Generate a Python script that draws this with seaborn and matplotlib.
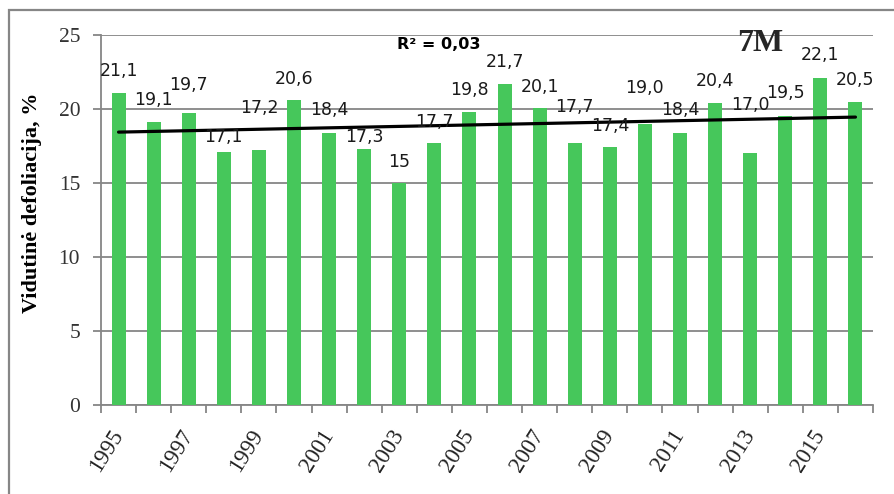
import numpy as np
import pandas as pd
import seaborn as sns
import matplotlib.pyplot as plt
from matplotlib.patches import Rectangle
from matplotlib.ticker import FixedLocator

# Data
years = list(range(1995, 2017))
defoliation = [21.1, 19.1, 19.7, 17.1, 17.2, 20.6, 18.4, 17.3, 15.0, 17.7, 19.8,
               21.7, 20.1, 17.7, 17.4, 19.0, 18.4, 20.4, 17.0, 19.5, 22.1, 20.5]
bar_labels = ["21,1", "19,1", "19,7", "17,1", "17,2", "20,6", "18,4", "17,3", "15",
              "17,7", "19,8", "21,7", "20,1", "17,7", "17,4", "19,0", "18,4", "20,4",
              "17,0", "19,5", "22,1", "20,5"]
# how far each label sits above its bar (px), labels were moved by hand in the original
label_lift = [22, 22, 28, 15, 42, 21, 23, 12, 21, 21, 22,
              22, 21, 36, 21, 36, 23, 22, 48, 23, 23, 22]

df = pd.DataFrame({"year": years, "value": defoliation})

sns.set_theme(style="white")
plt.rcParams["font.family"] = ["DejaVu Sans"]

W, H = 895, 494
fig = plt.figure(figsize=(W / 100, H / 100), dpi=100)
ax = fig.add_axes([101 / W, 1 - 405 / H, 772 / W, 370 / H])

green = "#46C75B"
grey = "#868686"

sns.barplot(data=df, x="year", y="value", color=green, width=0.4,
            saturation=1, linewidth=0, ax=ax, zorder=3)

# linear trend
xs = np.arange(len(years))
sns.regplot(x=xs, y=np.array(defoliation), scatter=False, ci=None, truncate=True,
            line_kws={"color": "black", "lw": 2.3, "zorder": 4}, ax=ax)
slope, intercept = np.polyfit(xs, defoliation, 1)
pred = slope * xs + intercept
yv = np.array(defoliation)
r2 = 1 - ((yv - pred) ** 2).sum() / ((yv - yv.mean()) ** 2).sum()

for i, (v, lab) in enumerate(zip(defoliation, bar_labels)):
    ax.annotate(lab, (i, v), xytext=(0, label_lift[i] * 0.72),
                textcoords="offset points", ha="center", va="center",
                fontsize=12.5, color="#1a1a1a", zorder=5)

ax.set_xlim(-0.5, len(years) - 0.5)
ax.set_ylim(0, 25)
ax.set_yticks([0, 5, 10, 15, 20, 25])
ax.yaxis.grid(True, color=grey, lw=1.3, zorder=0)
ax.set_axisbelow(True)

# year labels on every other bar, tick marks on category boundaries
ax.xaxis.set_major_locator(FixedLocator(list(range(0, len(years), 2))))
ax.set_xticklabels([str(y) for y in years[::2]], rotation=58, ha="right",
                   va="center", rotation_mode="anchor",
                   fontfamily="Liberation Serif", fontsize=16.5, color="#222222")
ax.xaxis.set_minor_locator(FixedLocator(np.arange(-0.5, len(years), 1.0)))
ax.tick_params(axis="x", which="major", length=0, pad=19)
ax.tick_params(axis="x", which="minor", length=6, width=1.3, color=grey,
               bottom=True)
ax.tick_params(axis="y", length=6, width=1.3, color=grey, pad=9, left=True,
               labelsize=15.5, labelcolor="#333333")
for t in ax.get_yticklabels():
    t.set_fontfamily("Liberation Serif")

for s in ["top", "right"]:
    ax.spines[s].set_visible(False)
for s in ["left", "bottom"]:
    ax.spines[s].set_color(grey)
    ax.spines[s].set_linewidth(1.3)

ax.set_xlabel("")
ax.set_ylabel("Vidutinė defoliacija, %", fontfamily="Liberation Serif",
              fontweight="bold", fontsize=16, color="black", va="center")
ax.yaxis.set_label_coords((32 - 101) / 772, (405 - 203) / 370)

ax.text(0.438, 0.973, "R² = " + f"{r2:.2f}".replace(".", ","),
        transform=ax.transAxes, ha="center", va="center",
        fontsize=11.5, fontweight="bold", color="black")
ax.text(0.854, 0.978, "7M", transform=ax.transAxes, ha="center", va="center",
        fontfamily="Liberation Serif", fontsize=23, fontweight="bold")

# chart frame (only left and top edges fall inside the picture)
fig.add_artist(Rectangle((9 / W, -0.2), 1.5, 1.2 - 10 / H, transform=fig.transFigure,
                         fill=False, edgecolor=grey, lw=1.6))

fig.savefig("out.png", dpi=100, facecolor="white")
